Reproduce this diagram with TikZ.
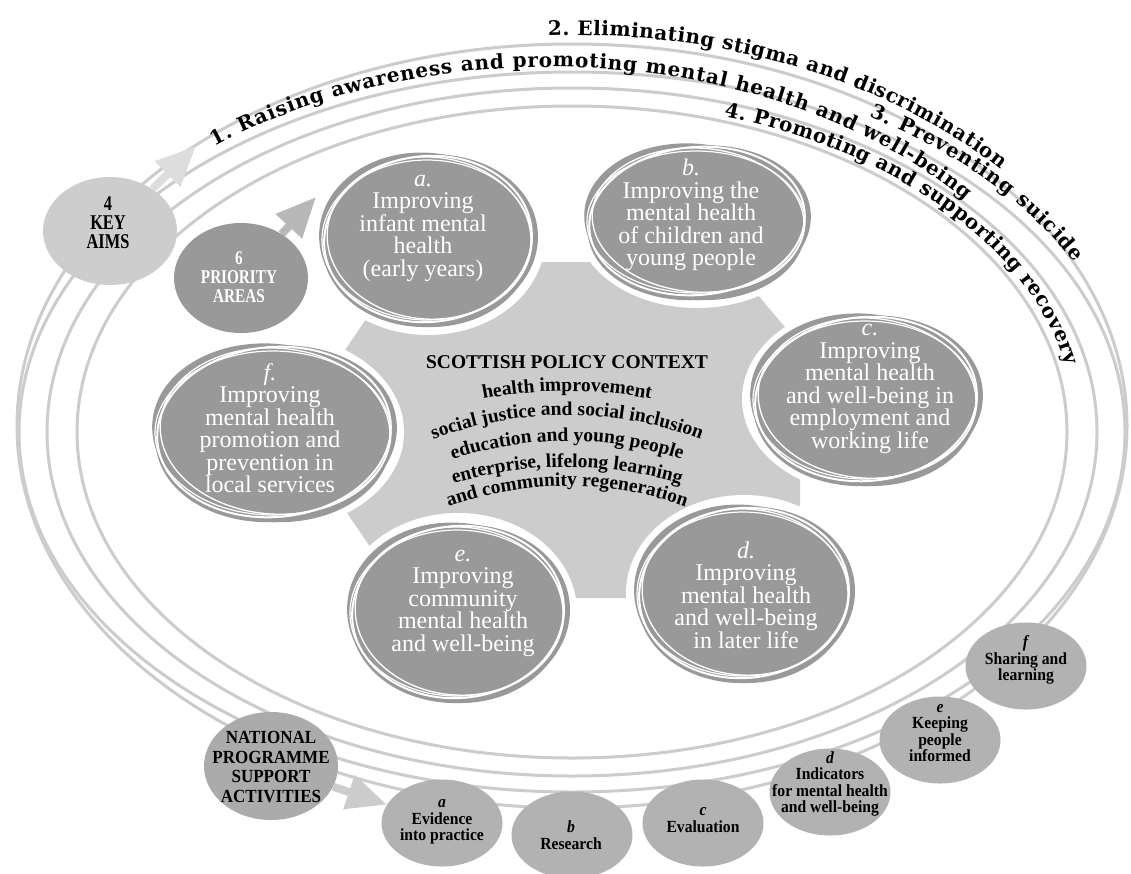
\documentclass[tikz,border=0pt]{standalone}
\usepackage{fontspec}
\setmainfont{Liberation Serif}
\newfontfamily\condfont{Liberation Serif}[FakeStretch=0.78]
\newfontfamily\semicond{Liberation Serif}[FakeStretch=0.92]
\newfontfamily\arcfont{DejaVu Serif}
\usetikzlibrary{shapes.geometric,arrows.meta,decorations.text}
\definecolor{pgray}{HTML}{999999}
\definecolor{lgray}{HTML}{CCCCCC}
\definecolor{bgray}{HTML}{B2B2B2}
\definecolor{ngray}{HTML}{ABABAB}
\definecolor{kgray}{HTML}{CDCDCD}
\definecolor{agray}{HTML}{DDDDDD}
\definecolor{atwogray}{HTML}{B8B8B8}
\newcommand\circfont{\fontsize{24}{22.5}\selectfont}
\newcommand\botfont{\semicond\bfseries\fontsize{17}{16.5}\selectfont}
\newcommand\bigfont{\condfont\bfseries\fontsize{21}{19}\selectfont}
\newcommand\natfont{\semicond\bfseries\fontsize{18.5}{19.5}\selectfont}
\newcommand\aimfont{\arcfont\bfseries\fontsize{20}{24}\selectfont}
\newcommand\ctxfont{\bfseries\fontsize{19.5}{22}\selectfont}
\newcommand\prioC[8]{%
  \fill[white] (#2,#3) ellipse [x radius=#4+9, y radius=#5+9];
  \fill[pgray, rotate around={6:(#2,#3)}] (#2+2,#3+2) ellipse [x radius=#4, y radius=#5-1];
  \fill[pgray, rotate around={-6:(#2,#3)}] (#2-2,#3+1) ellipse [x radius=#4-1, y radius=#5];
  \draw[white, line width=2, rotate around={5:(#2,#3)}] (#2,#3) ellipse [x radius=#4-4, y radius=#5-4];
  \draw[white, line width=1.3, rotate around={-4:(#2,#3)}] (#2+1,#3-1) ellipse [x radius=#4-6, y radius=#5-6];
  \draw[white, line width=1.2] (#2-1,#3+1) ellipse [x radius=#4-3, y radius=#5-7];
  \node[prio] (#1) at (#6,#7) {#8};
}
\newcommand\botC[6]{%
  \node[bot] (#1) at (#2,#3) {};
  \node[bottext] (#1t) at (#4,#5) {#6};
}
% text on a circular arc, centred on the top point (mid baseline y, radius)
\newcommand\ctxline[3]{%
  \path[decorate, decoration={text along path, text align=center, text={|\ctxfont|#3}}]
    ([shift={(230:#2)}]567,#1+#2) arc[start angle=230, end angle=310, radius=#2];
}
\begin{document}
\begin{tikzpicture}[x=1pt,y=-1pt,
  ring/.style={draw=lgray, line width=3},
  prio/.style={text=white, align=center, font=\circfont, inner sep=0},
  bot/.style={ellipse, fill=bgray, minimum width=121, minimum height=87, inner sep=0},
  bottext/.style={align=center, font=\botfont, inner sep=0},
  big/.style={ellipse, inner sep=0, minimum width=134, minimum height=108},
  bigtext/.style={align=center, font=\bigfont, inner sep=0},
  fatarrow/.style={line width=8, draw=#1, -{Triangle[length=40pt,width=34pt]}},
]
\useasboundingbox (0,0) rectangle (1131,873);
\fill[white] (0,0) rectangle (1131,873);

% circular guide lines
\draw[ring] (572,426) ellipse [x radius=555, y radius=382];
\draw[ring] (572,432) ellipse [x radius=553, y radius=360];
\draw[ring] (572,432) ellipse [x radius=525, y radius=344];
\draw[ring] (572,432) ellipse [x radius=495, y radius=326];

% key aims along the arcs
\path[decorate, decoration={text along path, text align=fit to path,
  text={|\aimfont|2. Eliminating stigma and discrimination}}]
  ([shift={(267.6:570 and 395)}]572,430) arc[start angle=267.6, end angle=318.7, x radius=570, y radius=395];
\path[decorate, decoration={text along path, text align=fit to path,
  text={|\aimfont|1. Raising awareness and promoting mental health and well-being}}]
  ([shift={(231.3:536 and 363)}]550,430) arc[start angle=231.3, end angle=320.7, x radius=536, y radius=363];
\path[decorate, decoration={text along path, text align=fit to path,
  text={|\aimfont|3. Preventing suicide}}]
  ([shift={(301.8:564 and 369)}]572,430) arc[start angle=301.8, end angle=333, x radius=564, y radius=369];
\path[decorate, decoration={text along path, text align=fit to path,
  text={|\aimfont|4. Promoting and supporting recovery}}]
  ([shift={(287.55:504 and 329)}]572,430) arc[start angle=287.55, end angle=348.6, x radius=504, y radius=329];

% central policy context
\fill[lgray] (405,262) -- (730,262) -- (800,345) -- (800,505) -- (730,598) -- (405,598) -- (345,510) -- (345,350) -- cycle;
\node[font=\bfseries\fontsize{19.5}{20}\selectfont, anchor=base, inner sep=0] (ctx) at (567,368) {SCOTTISH POLICY CONTEXT};
\ctxline{391}{444}{health improvement}
\ctxline{415}{376}{social justice and social inclusion}
\ctxline{441}{365}{education and young people}
\ctxline{467}{394}{enterprise, lifelong learning}
\ctxline{486}{351}{and community regeneration}

% six priority areas
\prioC{pa-a}{428}{239}{108}{87}{423}{228}{\textit{a.}\\Improving\\infant mental\\health\\(early years)}
\prioC{pa-b}{697}{221}{112}{78}{691}{215}{\textit{b.}\\Improving the\\mental health\\of children and\\young people}
\prioC{pa-c}{866}{399}{115}{86}{870}{389}{\textit{c.}\\Improving\\mental health\\and well-being in\\employment and\\working life}
\prioC{pa-d}{744}{593}{109}{89}{746}{595}{\textit{d.}\\Improving\\mental health\\and well-being\\in later life}
\prioC{pa-e}{458}{612}{110}{90}{463}{603}{\textit{e.}\\Improving\\community\\mental health\\and well-being}
\prioC{pa-f}{274}{432}{121}{89}{270}{428}{\textit{f.}\\Improving\\mental health\\promotion and\\prevention in\\local services}

% key aims and priority labels
\node[big, fill=kgray] (ka) at (110,231) {};
\node[bigtext] (kat) at (108,223) {4\\KEY\\AIMS};
\node[big, fill=pgray, minimum height=110] (pa) at (241,278) {};
\node[bigtext, text=white, font=\condfont\bfseries\fontsize{19.5}{19}\selectfont] (pat) at (239,277) {6\\PRIORITY\\AREAS};
\coordinate (kaTip) at (196,146);
\draw[fatarrow=agray] (ka) -- (kaTip);
\coordinate (paTip) at (316,197);
\draw[fatarrow=atwogray] (pa) -- (paTip);

% national programme support activities
\node[big, fill=ngray] (nat) at (271,766) {};
\node[bigtext, font=\natfont] (natt) at (271,767) {NATIONAL\\PROGRAMME\\SUPPORT\\ACTIVITIES};
\botC{ev}{442}{823}{442}{822}{\textit{a}\\Evidence\\into practice}
\botC{re}{572}{835}{571}{835}{\textit{b}\\Research}
\botC{evl}{703}{823}{703}{820}{\textit{c}\\Evaluation}
\botC{ind}{830}{792}{830}{784}{\textit{d}\\Indicators\\for mental health\\and well-being}
\botC{kp}{940}{740}{940}{733}{\textit{e}\\Keeping\\people\\informed}
\botC{sh}{1026}{666}{1026}{660}{\textit{f}\\Sharing and\\learning}
\draw[fatarrow=lgray] (nat) -- (ev);
\end{tikzpicture}
\end{document}
